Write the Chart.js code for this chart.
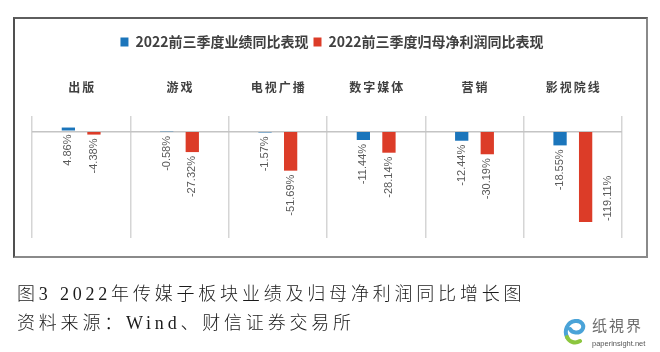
<!DOCTYPE html>
<html>
<head>
<meta charset="utf-8">
<script src="https://cdn.jsdelivr.net/npm/chart.js@4/dist/chart.umd.min.js"></script>
<style>
  html, body { margin: 0; padding: 0; background: #fff; }
  body { width: 660px; height: 352px; position: relative; overflow: hidden; }
  #frame { position: absolute; left: 13px; top: 17px; width: 635px; height: 241px; box-sizing: border-box;
           border: 2px solid; border-color: #5e5e5e #8a8a8a #8a8a8a #505050; pointer-events: none; }
  canvas { position: absolute; left: 0; top: 0; }
  .cap { position: absolute; left: 17px; font-family: "Liberation Serif", "Noto Sans CJK SC", serif; font-weight: 300;
         font-size: 18px; line-height: 20px; color: #1a1a1a; white-space: nowrap; }
  #cap1 { top: 284px; letter-spacing: 3.8px; }
  #cap2 { top: 313px; letter-spacing: 3.8px; }
  #logo { position: absolute; left: 563px; top: 315px; width: 90px; height: 36px; }
  #logo .t { position: absolute; left: 29px; top: 1px; font-family: "Noto Sans CJK SC"; font-size: 15px; color: #6b6b6b; letter-spacing: 2px; line-height: 18px; }
  #logo .u { position: absolute; left: 29px; top: 24px; font-family: "Liberation Sans", Arial; font-size: 7.5px; color: #555; line-height: 9px; }
</style>
</head>
<body>
<canvas id="c" width="660" height="352"></canvas>
<div id="frame"></div>
<div class="cap" id="cap1">图3 2022年传媒子板块业绩及归母净利润同比增长图</div>
<div class="cap" id="cap2">资料来源：Wind、财信证券交易所</div>
<div id="logo">
  <svg width="24" height="26" viewBox="0 0 24 26" style="position:absolute;left:0;top:4px">
    <path d="M4 18 C1 12 4 3 12 2 C19 1 22 7 19 11 C16 15 9 14 7 10" fill="none" stroke="#4aa3d8" stroke-width="4" stroke-linecap="round"/>
    <path d="M4 18 C6 23 12 25 17 22" fill="none" stroke="#8cc63f" stroke-width="4" stroke-linecap="round"/>
  </svg>
  <div class="t">纸視界</div>
  <div class="u">paperinsight.net</div>
</div>
<script>
const categories = ["出版", "游戏", "电视广播", "数字媒体", "营销", "影视院线"];
const seriesNames = ["2022前三季度业绩同比表现", "2022前三季度归母净利润同比表现"];
const revenueYoY = [4.86, -0.58, -1.57, -11.44, -12.44, -18.55];
const profitYoY = [-4.38, -27.32, -51.69, -28.14, -30.19, -119.11];

const labelPlugin = {
  id: 'valueLabels',
  afterDatasetsDraw(chart) {
    const ctx = chart.ctx;
    const area = chart.chartArea;
    ctx.save();
    ctx.font = '11px "Liberation Sans", Arial, sans-serif';
    ctx.fillStyle = '#595959';
    ctx.textAlign = 'right';
    ctx.textBaseline = 'middle';
    chart.data.datasets.forEach((ds, di) => {
      const meta = chart.getDatasetMeta(di);
      meta.data.forEach((bar, i) => {
        const v = ds.data[i];
        const txt = v.toFixed(2) + '%';
        const w = ctx.measureText(txt).width;
        const low = Math.max(bar.y, bar.base);
        let x = bar.x, top = low + 4;
        if (top + w > area.bottom - 8) {
          x = bar.x + 22;
          top = low - w - 1;
        }
        ctx.save();
        ctx.translate(x, top);
        ctx.rotate(-Math.PI / 2);
        ctx.fillText(txt, 0, 0);
        ctx.restore();
      });
    });
    ctx.restore();
  }
};

const catPlugin = {
  id: 'catLabels',
  afterDraw(chart) {
    const ctx = chart.ctx;
    const xs = chart.scales.x;
    ctx.save();
    ctx.font = 'bold 12px "Noto Sans CJK SC", sans-serif';
    ctx.fillStyle = '#404040';
    ctx.textAlign = 'center';
    ctx.textBaseline = 'middle';
    try { ctx.letterSpacing = '2px'; } catch (e) {}
    categories.forEach((c, i) => {
      ctx.fillText(c, xs.getPixelForValue(i) + 1, 87);
    });
    ctx.restore();
  }
};

const shiftLegend = {
  id: 'shiftLegend',
  afterLayout(chart) {
    if (chart.legend) { chart.legend.left += 5; chart.legend.right += 5; }
  }
};

new Chart(document.getElementById('c'), {
  type: 'bar',
  data: {
    labels: categories,
    datasets: [
      { label: seriesNames[0], data: revenueYoY, backgroundColor: '#1B75BB', borderWidth: 0,
        categoryPercentage: 0.52, barPercentage: 0.52 },
      { label: seriesNames[1], data: profitYoY, backgroundColor: '#DC3C28', borderWidth: 0,
        categoryPercentage: 0.52, barPercentage: 0.52 }
    ]
  },
  options: {
    responsive: false,
    animation: false,
    devicePixelRatio: 1,
    layout: { padding: { left: 32, right: 38, top: 30, bottom: 114 } },
    plugins: {
      legend: {
        position: 'top',
        labels: {
          boxWidth: 8, boxHeight: 9, padding: 5, color: '#404040',
          font: { family: '"Noto Sans CJK SC", sans-serif', size: 14, weight: 'bold' }
        }
      },
      tooltip: { enabled: false }
    },
    scales: {
      x: {
        position: 'top',
        ticks: { display: false },
        border: { display: false },
        grid: { display: true, color: '#d5d5d5', lineWidth: 1.5, drawTicks: false, offset: true },
        afterFit(s) { s.height = 57; }
      },
      y: {
        min: -140, max: 20,
        ticks: { display: false, stepSize: 20 },
        border: { display: false },
        grid: { drawTicks: false, lineWidth: 1.5,
                color: (c) => (c.tick && c.tick.value === 0) ? '#c4c4c4' : 'rgba(0,0,0,0)' }
      }
    }
  },
  plugins: [labelPlugin, catPlugin, shiftLegend]
});
</script>
</body>
</html>
